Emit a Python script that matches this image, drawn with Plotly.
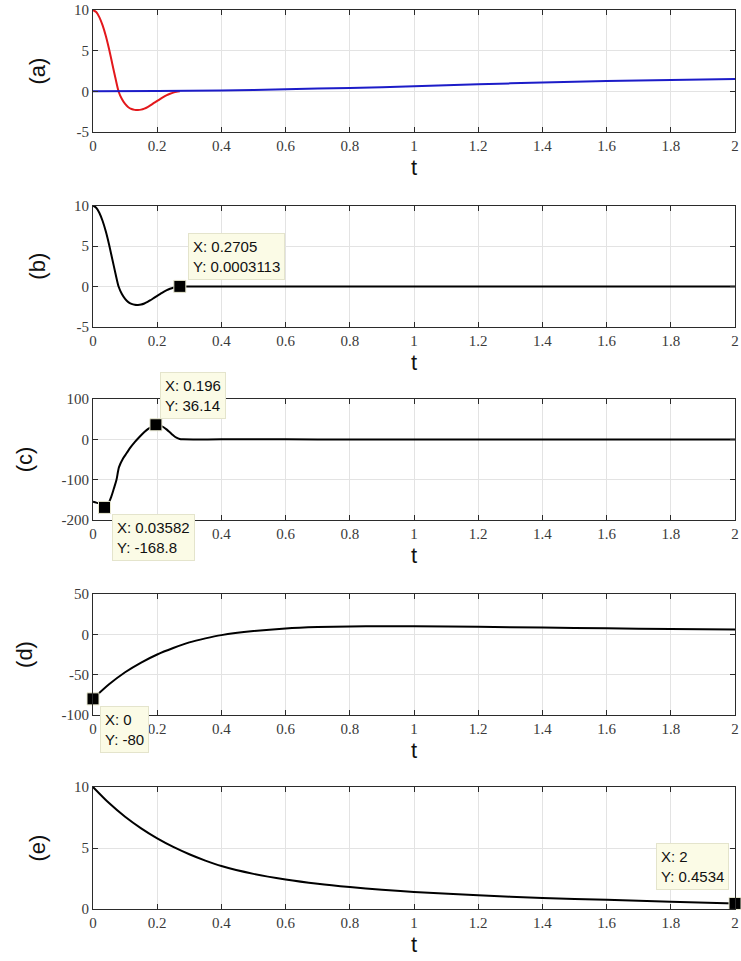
import plotly.graph_objects as go

# ---------------- data ----------------
# panel (a)/(b): damped state (red in a, black in b)
t_osc = [0, 0.01, 0.02, 0.03, 0.04, 0.05, 0.06, 0.07, 0.08, 0.09, 0.10, 0.11, 0.12, 0.13,
         0.14, 0.15, 0.16, 0.17, 0.18, 0.19, 0.20, 0.21, 0.22, 0.23, 0.24, 0.25, 0.26,
         0.2705]
x_osc = [10, 9.75, 9.1, 8.1, 6.8, 5.2, 3.4, 1.6, -0.05, -0.95, -1.55, -1.95, -2.17, -2.28,
         -2.3, -2.25, -2.12, -1.93, -1.69, -1.43, -1.17, -0.92, -0.68, -0.47, -0.3, -0.16, -0.06,
         0.0003113]
# continuation of the same state in (b) after the data tip
t_osc_tail = [0.2705, 0.4, 0.6, 0.8, 1.0, 1.2, 1.4, 1.6, 1.8, 2.0]
x_osc_tail = [0.0003113, 0, 0, 0, 0, 0, 0, 0, 0, 0]

# panel (a): slow blue state
t_blue = [0, 0.2, 0.4, 0.6, 0.8, 1.0, 1.2, 1.4, 1.6, 1.8, 2.0]
x_blue = [0, 0.03, 0.1, 0.25, 0.42, 0.62, 0.87, 1.08, 1.27, 1.4, 1.51]

# panel (c)
t_c = [0, 0.01, 0.02, 0.03, 0.03582, 0.045, 0.057, 0.065, 0.073, 0.081, 0.094, 0.105,
       0.115, 0.13, 0.146, 0.16, 0.172, 0.185, 0.196, 0.21, 0.22, 0.23, 0.24, 0.25,
       0.26, 0.27, 0.28, 0.4, 0.6, 0.8, 1.0, 1.2, 1.4, 1.6, 1.8, 2.0]
x_c = [-155, -157, -160, -165, -168.8, -164, -142, -122, -101, -69, -47, -34,
       -22, -7, 7, 18, 26, 32, 36.14, 34, 30, 24, 17, 10,
       4, 0.8, 0, 0, 0, -0.5, -0.5, -0.5, -0.5, -0.5, -0.5, -0.5]

# panel (d)
t_d = [0, 0.05, 0.1, 0.15, 0.2, 0.25, 0.3, 0.35, 0.4, 0.5, 0.6, 0.7, 0.8, 0.9,
       1.0, 1.2, 1.4, 1.6, 1.8, 2.0]
x_d = [-80, -62, -47, -35, -25, -17, -10, -5, -1, 4, 7.3, 9, 9.8, 10.1,
       10, 9.3, 8.4, 7.4, 6.6, 5.9]

# panel (e)
t_e = [0, 0.05, 0.1, 0.15, 0.2, 0.25, 0.3, 0.35, 0.4, 0.5, 0.6, 0.7, 0.8, 0.9,
       1.0, 1.2, 1.4, 1.6, 1.8, 2.0]
x_e = [10, 8.68, 7.56, 6.61, 5.79, 5.09, 4.49, 3.97, 3.52, 2.88, 2.42, 2.07, 1.8, 1.58,
       1.4, 1.12, 0.91, 0.75, 0.6, 0.4534]

# data tips (x, y, text)
tip_b = [(0.2705, 0.0003113, "X: 0.2705<br>Y: 0.0003113")]
tip_c = [(0.196, 36.14, "X: 0.196<br>Y: 36.14"), (0.03582, -168.8, "X: 0.03582<br>Y: -168.8")]
tip_d = [(0, -80, "X: 0<br>Y: -80")]
tip_e = [(2, 0.4534, "X: 2<br>Y: 0.4534")]

panel_labels = ["(a)", "(b)", "(c)", "(d)", "(e)"]
x_ticks = [0, 0.2, 0.4, 0.6, 0.8, 1.0, 1.2, 1.4, 1.6, 1.8, 2.0]
x_ticktext = ["0", "0.2", "0.4", "0.6", "0.8", "1", "1.2", "1.4", "1.6", "1.8", "2"]
y_ticks = [[-5, 0, 5, 10], [-5, 0, 5, 10], [-200, -100, 0, 100], [-100, -50, 0, 50], [0, 5, 10]]
y_ticktext = [["-5", "0", "5", "10"], ["-5", "0", "5", "10"], ["-200", "-100", "0", "100"],
              ["-100", "-50", "0", "50"], ["0", "5", "10"]]
y_ranges = [[-5, 10], [-5, 10], [-200, 100], [-100, 50], [0, 10]]

# ---------------- figure ----------------
domains = [[0.8643, 1.0], [0.6477, 0.7823], [0.4327, 0.5673], [0.2158, 0.3504], [0.0, 0.1357]]

fig = go.Figure()
line_w = 2
tick_font = dict(family="Liberation Serif", size=15, color="#3a3a3a")
label_font = dict(family="Liberation Sans, Arial, sans-serif", size=22, color="#111111")


def add_line(i, x, y, color):
    sfx = "" if i == 0 else str(i + 1)
    fig.add_trace(go.Scatter(x=x, y=y, mode="lines", xaxis="x" + sfx, yaxis="y" + sfx,
                             line=dict(color=color, width=line_w, shape="spline", smoothing=0.8),
                             showlegend=False, hoverinfo="skip"))


add_line(0, t_osc, x_osc, "#e3181c")
add_line(0, t_blue, x_blue, "#1c1cc8")
add_line(1, t_osc, x_osc, "#000000")
add_line(1, t_osc_tail, x_osc_tail, "#000000")
add_line(2, t_c, x_c, "#000000")
add_line(3, t_d, x_d, "#000000")
add_line(4, t_e, x_e, "#000000")

tips = {1: tip_b, 2: tip_c, 3: tip_d, 4: tip_e}
tip_layout = {
    (1, 0): dict(xanchor="left", yanchor="bottom", xshift=8, yshift=6),
    (2, 0): dict(xanchor="left", yanchor="bottom", xshift=4, yshift=6),
    (2, 1): dict(xanchor="left", yanchor="top", xshift=7, yshift=-7),
    (3, 0): dict(xanchor="left", yanchor="top", xshift=7, yshift=-7),
    (4, 0): dict(xanchor="right", yanchor="bottom", xshift=-6, yshift=13),
}
annotations = []
for i, lst in tips.items():
    sfx = "" if i == 0 else str(i + 1)
    fig.add_trace(go.Scatter(x=[p[0] for p in lst], y=[p[1] for p in lst], mode="markers",
                             xaxis="x" + sfx, yaxis="y" + sfx, cliponaxis=False,
                             marker=dict(symbol="square", size=12, color="black",
                                         line=dict(color="#e8e8d0", width=1)),
                             showlegend=False, hoverinfo="skip"))
    for k, (px, py, txt) in enumerate(lst):
        annotations.append(dict(x=px, y=py, xref="x" + sfx, yref="y" + sfx, text=txt,
                                showarrow=False, align="left",
                                font=dict(family="Liberation Sans, Arial, sans-serif",
                                          size=15, color="#111111"),
                                bgcolor="#fbfbe6", bordercolor="#e4e4cc", borderwidth=1,
                                borderpad=4, **tip_layout[(i, k)]))

layout = dict(width=741, height=961, margin=dict(l=93, r=2, t=10, b=52),
              paper_bgcolor="white", plot_bgcolor="white", annotations=annotations)
for i in range(5):
    sfx = "" if i == 0 else str(i + 1)
    layout["xaxis" + sfx] = dict(
        domain=[0, 1], anchor="y" + sfx, range=[0, 2], tickvals=x_ticks, ticktext=x_ticktext,
        ticklabeloverflow="allow",
        showgrid=True, gridcolor="#e3e3e3", gridwidth=1, zeroline=False,
        showline=True, linecolor="#2b2b2b", linewidth=1, mirror="ticks",
        ticks="inside", ticklen=5, tickcolor="#2b2b2b", tickfont=tick_font,
        title=dict(text="t", font=label_font, standoff=6))
    layout["yaxis" + sfx] = dict(
        domain=domains[i], anchor="x" + sfx, range=y_ranges[i], tickvals=y_ticks[i],
        ticktext=y_ticktext[i],
        showgrid=True, gridcolor="#e3e3e3", gridwidth=1, zeroline=False,
        showline=True, linecolor="#2b2b2b", linewidth=1, mirror="ticks",
        ticks="inside", ticklen=5, tickcolor="#2b2b2b", tickfont=tick_font,
        title=dict(text=panel_labels[i], font=label_font, standoff=22))
fig.update_layout(**layout)
fig.write_html("out.html")
